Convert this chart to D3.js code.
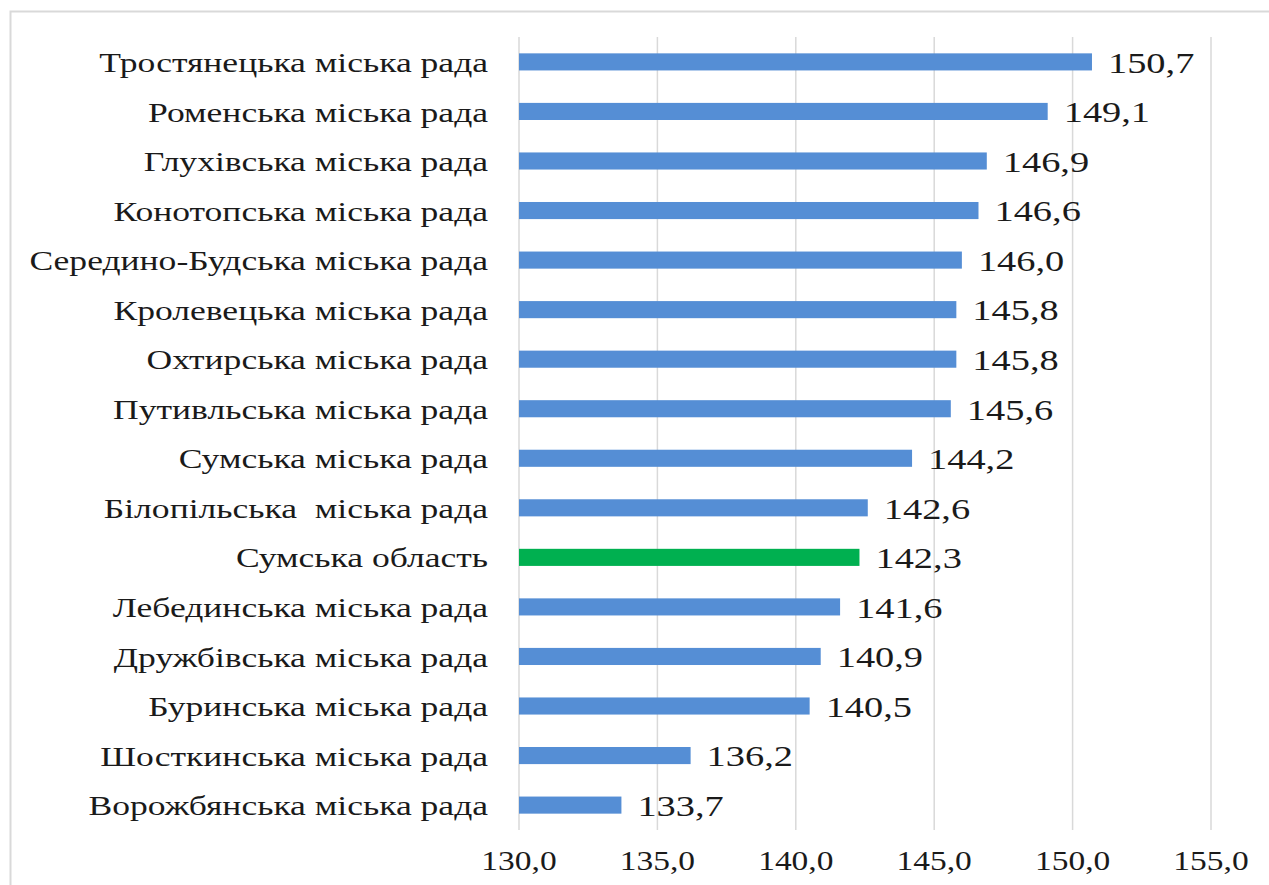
<!DOCTYPE html>
<html>
<head>
<meta charset="utf-8">
<script src="https://cdn.jsdelivr.net/npm/d3@7"></script>
<style>
  html, body { margin: 0; padding: 0; background: #fff; }
  svg { display: block; }
</style>
</head>
<body>
<svg id="chart" width="1269" height="885"></svg>
<script>
const categories = [
  "Тростянецька міська рада",
  "Роменська міська рада",
  "Глухівська міська рада",
  "Конотопська міська рада",
  "Середино-Будська міська рада",
  "Кролевецька міська рада",
  "Охтирська міська рада",
  "Путивльська міська рада",
  "Сумська міська рада",
  "Білопільська  міська рада",
  "Сумська область",
  "Лебединська міська рада",
  "Дружбівська міська рада",
  "Буринська міська рада",
  "Шосткинська міська рада",
  "Ворожбянська міська рада"
];
const values = [150.7, 149.1, 146.9, 146.6, 146.0, 145.8, 145.8, 145.6, 144.2, 142.6, 142.3, 141.6, 140.9, 140.5, 136.2, 133.7];
const highlight = ["Сумська область"];
const tickValues = [130, 135, 140, 145, 150, 155];
const xDomain = [130, 155];

const FONT = '"Liberation Serif"';
const SX = 1.24;     // horizontal stretch of tick text in the source image
const SX_CAT = 1.27; // horizontal stretch of category text
const SX_VAL = 1.28; // horizontal stretch of value labels
const fmt = v => v.toFixed(1).replace(".", ",");

const svg = d3.select("#chart");

svg.append("rect")
  .attr("x", 10.5).attr("y", 11.5)
  .attr("width", 1300).attr("height", 900)
  .attr("fill", "none").attr("stroke", "#d9d9d9").attr("stroke-width", 2);

const x = d3.scaleLinear().domain(xDomain).range([519, 1211]);
const y = d3.scaleBand().domain(categories).range([37, 830]).paddingInner(0.655).paddingOuter(0.33);

svg.append("g")
  .selectAll("line")
  .data(tickValues)
  .join("line")
  .attr("x1", d => x(d)).attr("x2", d => x(d))
  .attr("y1", 37).attr("y2", 830)
  .attr("stroke", "#d9d9d9").attr("stroke-width", 1.5);

svg.append("g")
  .selectAll("text")
  .data(tickValues)
  .join("text")
  .attr("transform", d => `translate(${x(d)},870) scale(${SX},1)`)
  .attr("text-anchor", "middle")
  .style("font-family", FONT)
  .attr("fill", "#1a1a1a")
  .attr("font-size", 27)
  .text(d => fmt(d));

svg.append("g")
  .selectAll("rect")
  .data(categories)
  .join("rect")
  .attr("x", x(xDomain[0]))
  .attr("y", d => y(d))
  .attr("width", (d, i) => x(values[i]) - x(xDomain[0]))
  .attr("height", y.bandwidth())
  .attr("fill", d => highlight.includes(d) ? "#00B050" : "#558ED5");

svg.append("g")
  .selectAll("text")
  .data(categories)
  .join("text")
  .attr("transform", d => `translate(488,${y(d) + y.bandwidth() / 2}) scale(${SX_CAT},1)`)
  .attr("dy", "0.36em")
  .attr("text-anchor", "end")
  .style("font-family", FONT)
  .style("white-space", "pre")
  .attr("fill", "#1a1a1a")
  .attr("font-size", 28)
  .text(d => d);

svg.append("g")
  .selectAll("text")
  .data(categories)
  .join("text")
  .attr("transform", (d, i) => `translate(${x(values[i]) + 16},${y(d) + y.bandwidth() / 2}) scale(${SX_VAL},1)`)
  .attr("dy", "0.36em")
  .style("font-family", FONT)
  .attr("fill", "#1a1a1a")
  .attr("font-size", 30)
  .text((d, i) => fmt(values[i]));
</script>
</body>
</html>
